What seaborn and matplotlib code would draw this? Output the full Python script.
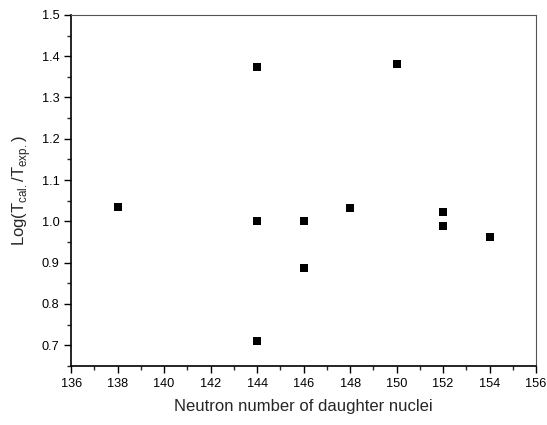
import matplotlib
matplotlib.use("Agg")
import matplotlib.pyplot as plt
import seaborn as sns
import pandas as pd
from matplotlib.ticker import MultipleLocator

neutron_number = [138, 144, 144, 144, 146, 146, 148, 150, 152, 152, 154]
log_ratio = [1.035, 1.375, 1.000, 0.710, 1.000, 0.888, 1.033, 1.380, 1.022, 0.988, 0.963]

df = pd.DataFrame({"N": neutron_number, "logT": log_ratio})

sns.set_style("ticks")
plt.rcParams["font.family"] = ["Liberation Sans", "DejaVu Sans"]
plt.rcParams["mathtext.fontset"] = "custom"
plt.rcParams["mathtext.rm"] = "Liberation Sans"

fig = plt.figure(figsize=(5.47, 4.25), dpi=100)
ax = fig.add_axes([0.13, 0.139, 0.850, 0.826])

sns.scatterplot(data=df, x="N", y="logT", marker="s", s=26, color="black",
                edgecolor="black", linewidth=0, ax=ax, legend=False)

ax.set_xlim(136, 156)
ax.set_ylim(0.65, 1.5)
ax.xaxis.set_major_locator(MultipleLocator(2))
ax.xaxis.set_minor_locator(MultipleLocator(1))
ax.yaxis.set_major_locator(MultipleLocator(0.1))
ax.yaxis.set_minor_locator(MultipleLocator(0.05))
ax.set_xticklabels([f"{int(t)}" for t in ax.get_xticks()])

ax.tick_params(which="major", direction="out", length=5, width=1, labelsize=9.2, colors="black")
ax.tick_params(which="minor", direction="out", length=3, width=1)
for side in ["top", "right"]:
    ax.spines[side].set_visible(True)
    ax.spines[side].set_color("#555555")
for side in ["left", "bottom"]:
    ax.spines[side].set_color("black")
    ax.spines[side].set_linewidth(1.2)

ax.set_xlabel("Neutron number of daughter nuclei", fontsize=12, labelpad=7)
ax.set_ylabel(r"Log(T$_{\mathregular{cal.}}$/T$_{\mathregular{exp.}}$)", fontsize=12, labelpad=6)

fig.savefig("out.png", dpi=100)
